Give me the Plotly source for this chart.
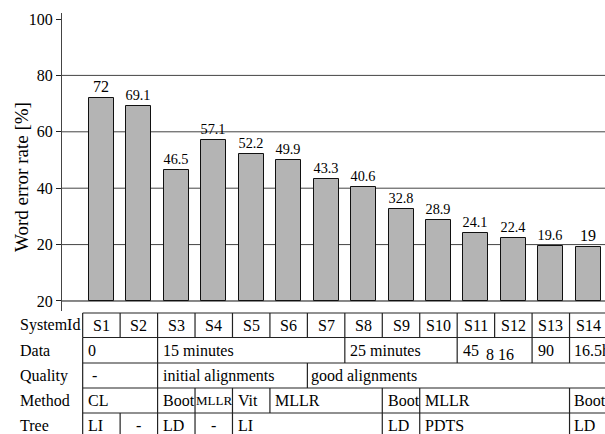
import plotly.graph_objects as go

# ---- data -------------------------------------------------------------
systems = ["S1", "S2", "S3", "S4", "S5", "S6", "S7",
           "S8", "S9", "S10", "S11", "S12", "S13", "S14"]
wer = [72, 69.1, 46.5, 57.1, 52.2, 49.9, 43.3,
       40.6, 32.8, 28.9, 24.1, 22.4, 19.6, 19]

y_tick_vals = [0, 20, 40, 60, 80, 100]
y_tick_text = ["20", "20", "40", "60", "80", "100"]
grid_vals = [0, 20, 40, 60, 80]

row_labels = ["SystemId", "Data", "Quality", "Method", "Tree"]
# merged table cells: (first system index, last system index, text)
data_cells = [(0, 1, "0"), (2, 6, "15 minutes"), (7, 9, "25 minutes"),
              (10, 11, "45"), (12, 12, "90"), (13, 13, "16.5h")]
data_lowered = [(10, 11, "8 16")]
quality_cells = [(0, 1, "-"), (2, 5, "initial alignments"),
                 (6, 13, "good alignments")]
method_cells = [(0, 1, "CL"), (2, 2, "Boot"), (3, 3, "MLLR"), (4, 4, "Vit"),
                (5, 7, "MLLR"), (8, 8, "Boot"), (9, 12, "MLLR"), (13, 13, "Boot")]
tree_cells = [(0, 0, "LI"), (1, 1, "-"), (2, 2, "LD"), (3, 3, "-"),
              (4, 7, "LI"), (8, 8, "LD"), (9, 12, "PDTS"), (13, 13, "LD")]

# ---- geometry ---------------------------------------------------------
W, H = 605, 434
ML, MR, MT, MB = 62, 0, 13, 123
PW, PH = W - ML - MR, H - MT - MB
X_LO, X_HI = -1.052, 13.447
Y_LO, Y_HI = -3.55, 102.13
FONT = "'Liberation Serif', 'Times New Roman', Times, 'DejaVu Serif', serif"
INK = "#000"

def px_x(px):
    return (px - ML) / PW

def px_y(py):
    return (H - MB - py) / PH

def dx(xd):
    return (xd - X_LO) / (X_HI - X_LO)

row_edges_px = [313, 337.5, 363, 388, 413, 438]

xs = list(range(len(systems)))

fig = go.Figure()
fig.add_trace(go.Bar(
    x=xs, y=wer, width=0.667,
    marker=dict(color="#b4b4b4", line=dict(color="#111", width=1)),
    text=[f"{v:g}" for v in wer], textposition="outside",
    textfont=dict(family=FONT, size=16, color=INK),
    cliponaxis=False, showlegend=False,
))

shapes = []
for g in grid_vals:
    shapes.append(dict(type="line", xref="paper", yref="y", x0=0, x1=1,
                       y0=g, y1=g, layer="below",
                       line=dict(color="#111" if g == 0 else "#444", width=1)))

annotations = []
line = dict(color="#222", width=1.2)
table_left = dx(-0.5)

# horizontal rules of the table
for ypx in row_edges_px:
    shapes.append(dict(type="line", xref="paper", yref="paper",
                       x0=table_left, x1=1.0, y0=px_y(ypx), y1=px_y(ypx), line=line))

sys_cells = [(i, i, s) for i, s in enumerate(systems)]
rows = [sys_cells, data_cells, quality_cells, method_cells, tree_cells]

for r, (label, cells) in enumerate(zip(row_labels, rows)):
    top, bot = row_edges_px[r], row_edges_px[r + 1]
    ymid = px_y((top + bot) / 2)
    annotations.append(dict(x=px_x(18), y=ymid, xref="paper", yref="paper",
                            text=label, showarrow=False, xanchor="left",
                            yanchor="middle",
                            font=dict(family=FONT, size=16, color=INK)))
    for a, b, txt in cells:
        left = dx(a - 0.5)
        shapes.append(dict(type="line", xref="paper", yref="paper",
                           x0=left, x1=left, y0=px_y(top), y1=px_y(bot), line=line))
        size = 16
        if r == 0 or (txt == "-" and a == b):
            xa, xanchor = dx((a + b) / 2), "center"
        else:
            pad = 7 if txt == "-" else (2 if b == 13 else 3.5)
            xa, xanchor = left + pad / PW, "left"
        if a == b and txt == "MLLR":
            size = 13
            xa, xanchor = dx(a), "center"
        annotations.append(dict(x=xa, y=ymid, xref="paper", yref="paper",
                                text=txt, showarrow=False, xanchor=xanchor,
                                yanchor="middle",
                                font=dict(family=FONT, size=size, color=INK)))
    if r == 1:
        for a, b, txt in data_lowered:
            annotations.append(dict(x=dx(a - 0.5) + 27 / PW, y=ymid,
                                    xref="paper", yref="paper", yshift=-4,
                                    text=txt, showarrow=False, xanchor="left",
                                    yanchor="middle",
                                    font=dict(family=FONT, size=16, color=INK)))

# rotated y-axis title
annotations.append(dict(x=px_x(21), y=px_y(177), xref="paper", yref="paper",
                        text="Word error rate [%]", textangle=-90,
                        showarrow=False, xanchor="center", yanchor="middle",
                        font=dict(family=FONT, size=19, color=INK)))

fig.update_layout(
    width=W, height=H,
    margin=dict(l=ML, r=MR, t=MT, b=MB, pad=0),
    paper_bgcolor="white", plot_bgcolor="white",
    font=dict(family=FONT, size=16, color=INK),
    xaxis=dict(range=[X_LO, X_HI], visible=False, showgrid=False,
               zeroline=False),
    yaxis=dict(range=[Y_LO, Y_HI], tickvals=y_tick_vals, ticktext=y_tick_text,
               showgrid=False, zeroline=False, showline=True,
               linecolor="#444", linewidth=1, ticks="outside", ticklen=5,
               tickcolor="#222", tickfont=dict(family=FONT, size=16, color=INK)),
    shapes=shapes, annotations=annotations, bargap=0,
)

fig.write_html("out.html")
